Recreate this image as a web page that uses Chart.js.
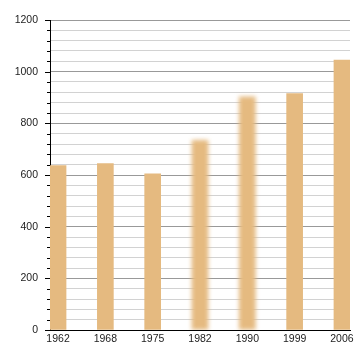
<!DOCTYPE html>
<html>
<head>
<meta charset="utf-8">
<script src="https://cdn.jsdelivr.net/npm/chart.js@4/dist/chart.umd.min.js"></script>
<style>
  html, body { margin: 0; padding: 0; background: #fff; }
  #wrap { width: 360px; height: 360px; }
</style>
</head>
<body>
<div id="wrap"><canvas id="chart"></canvas></div>
<script>
const years = ['1962', '1968', '1975', '1982', '1990', '1999', '2006'];
const values = [636, 644, 605, 734, 903, 915, 1045];
const blurred = ['1982', '1990'];

const barColor = '#E5BA80';

// soft edges on some bars, like in the original
const blurBars = {
    id: 'blurBars',
    beforeDatasetsDraw(chart) {
        const meta = chart.getDatasetMeta(0);
        meta.data.forEach((el, i) => {
            if (!blurred.includes(years[i]) || el._blurred) return;
            const orig = el.draw;
            el.draw = function (ctx) {
                ctx.save();
                ctx.filter = 'blur(2px)';
                orig.call(this, ctx);
                ctx.restore();
            };
            el._blurred = true;
        });
    }
};

// tick marks on the left of the y axis: long for labelled, short for minor
const yTicks = {
    id: 'yTicks',
    afterDraw(chart) {
        const y = chart.scales.y;
        const ctx = chart.ctx;
        const x0 = chart.chartArea.left;
        ctx.save();
        ctx.strokeStyle = '#000';
        ctx.lineWidth = 1;
        y.ticks.forEach(t => {
            const py = Math.round(y.getPixelForValue(t.value)) + 0.5;
            const len = t.value % 200 === 0 ? 5 : 3;
            ctx.beginPath();
            ctx.moveTo(x0 - len, py);
            ctx.lineTo(x0, py);
            ctx.stroke();
        });
        ctx.restore();
    }
};

const font = { family: 'Liberation Sans, Arial, sans-serif', size: 10.5 };

new Chart(document.getElementById('chart'), {
    type: 'bar',
    data: {
        datasets: [{
            data: values.map((v, i) => ({ x: i, y: v })),
            backgroundColor: barColor,
            borderWidth: 0,
            barThickness: 16
        }]
    },
    options: {
        responsive: true,
        maintainAspectRatio: false,
        animation: false,
        layout: { padding: { top: 20, right: 10, left: 0, bottom: 0 } },
        plugins: {
            legend: { display: false },
            tooltip: { enabled: false }
        },
        scales: {
            x: {
                type: 'linear',
                offset: false,
                min: -0.17,
                max: 6.17,
                afterBuildTicks: s => { s.ticks = years.map((_, i) => ({ value: i })); },
                afterFit: s => { s.height = 30; },
                grid: { display: false, drawTicks: false },
                border: { display: true, color: '#000', width: 1 },
                ticks: {
                    padding: 3,
                    color: '#222',
                    font: font,
                    callback: v => years[v]
                }
            },
            y: {
                min: 0,
                max: 1200,
                afterFit: s => { s.width = 50; },
                border: { display: true, color: '#000', width: 1 },
                grid: {
                    drawTicks: false,
                    color: c => c.tick.value % 200 === 0 ? '#999999' : '#d2d2d2',
                    lineWidth: 1
                },
                ticks: {
                    stepSize: 40,
                    autoSkip: false,
                    padding: 12,
                    color: '#222',
                    font: font,
                    callback: v => v % 200 === 0 ? v : ''
                }
            }
        }
    },
    plugins: [blurBars, yTicks]
});
</script>
</body>
</html>
